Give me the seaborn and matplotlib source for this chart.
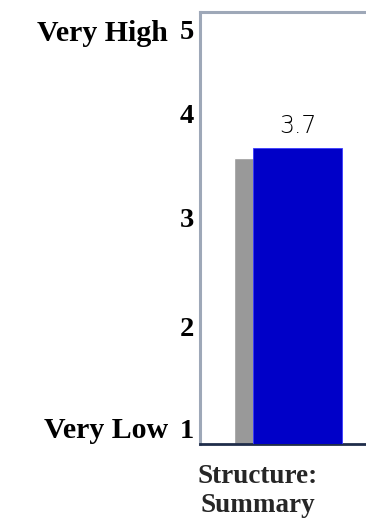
import matplotlib
matplotlib.use("Agg")
import matplotlib.pyplot as plt
import matplotlib.transforms as mtransforms
import seaborn as sns

# Data
categories = ["Structure:\nSummary"]
scores = [3.7]          # blue bar (score)
norms = [3.6]           # grey bar behind (comparison)
tick_values = [1, 2, 3, 4, 5]
tick_labels = ["1", "2", "3", "4", "5"]
scale_ends = {1: "Very Low", 5: "Very High"}

sns.set_style("white")
plt.rcParams["font.family"] = ["DejaVu Sans"]

W, H = 366, 525
fig = plt.figure(figsize=(W / 100, H / 100), dpi=100)
ax = fig.add_axes([200 / W, 81 / H, 195 / W, 432 / H])

serif = ["Liberation Serif", "DejaVu Serif"]

sns.barplot(x=categories, y=norms, color="#999999", width=0.456,
            saturation=1, ax=ax, zorder=2)
sns.barplot(x=categories, y=scores, color="#0000c8", width=0.456,
            saturation=1, ax=ax, zorder=3)

# grey bar sits slightly to the left, behind the blue one
grey_patch, blue_patch = ax.patches[0], ax.patches[1]
grey_patch.set_x(grey_patch.get_x() - 0.097)
grey_patch.set_zorder(2)
blue_patch.set_zorder(3)
blue_patch.set_edgecolor("#3b3bff")
blue_patch.set_linewidth(0.6)

ax.set_xlim(-0.5, 0.5)
ax.set_ylim(1, 4.934)

# value label
ax.text(0, scores[0] + 0.09, f"{scores[0]:.1f}", ha="center", va="bottom",
        fontsize=17, fontweight="light", color="#000000",
        family=["DejaVu Sans"])

# y tick labels drawn beside the axis
ax.set_xticks([])
ax.set_yticks([])
ytrans = mtransforms.blended_transform_factory(ax.transAxes, ax.transData)
label_shift = {1: 0, 2: 5, 3: 4, 4: -2, 5: -8}
for v, lab in zip(tick_values, tick_labels):
    if v == 1:
        y, va = v, "bottom"
    elif v == 5:
        y, va = ax.get_ylim()[1], "top"
    else:
        y, va = v, "center"
    dy = label_shift[v]
    off = mtransforms.offset_copy(ytrans, fig=fig, x=-6, y=dy, units="dots")
    ax.text(0, y, lab, transform=off, ha="right", va=va, fontsize=20.5,
            fontweight="bold", family=serif, color="black")
    if v in scale_ends:
        off2 = mtransforms.offset_copy(ytrans, fig=fig, x=-32, y=dy, units="dots")
        ax.text(0, y, scale_ends[v], transform=off2, ha="right", va=va,
                fontsize=21.5, fontweight="bold", family=serif, color="black")

# category label under the axis
fig.text(258 / W, 1 - 464 / H, categories[0], ha="center", va="top",
         fontsize=19.5, fontweight="bold", family=serif, linespacing=1.22)

for side in ["left", "top"]:
    ax.spines[side].set_color("#9ea8b8")
    ax.spines[side].set_linewidth(2.2)
ax.spines["bottom"].set_color("#1f2d4a")
ax.spines["bottom"].set_linewidth(2)
ax.spines["right"].set_visible(False)

fig.savefig("out.png", dpi=100)
